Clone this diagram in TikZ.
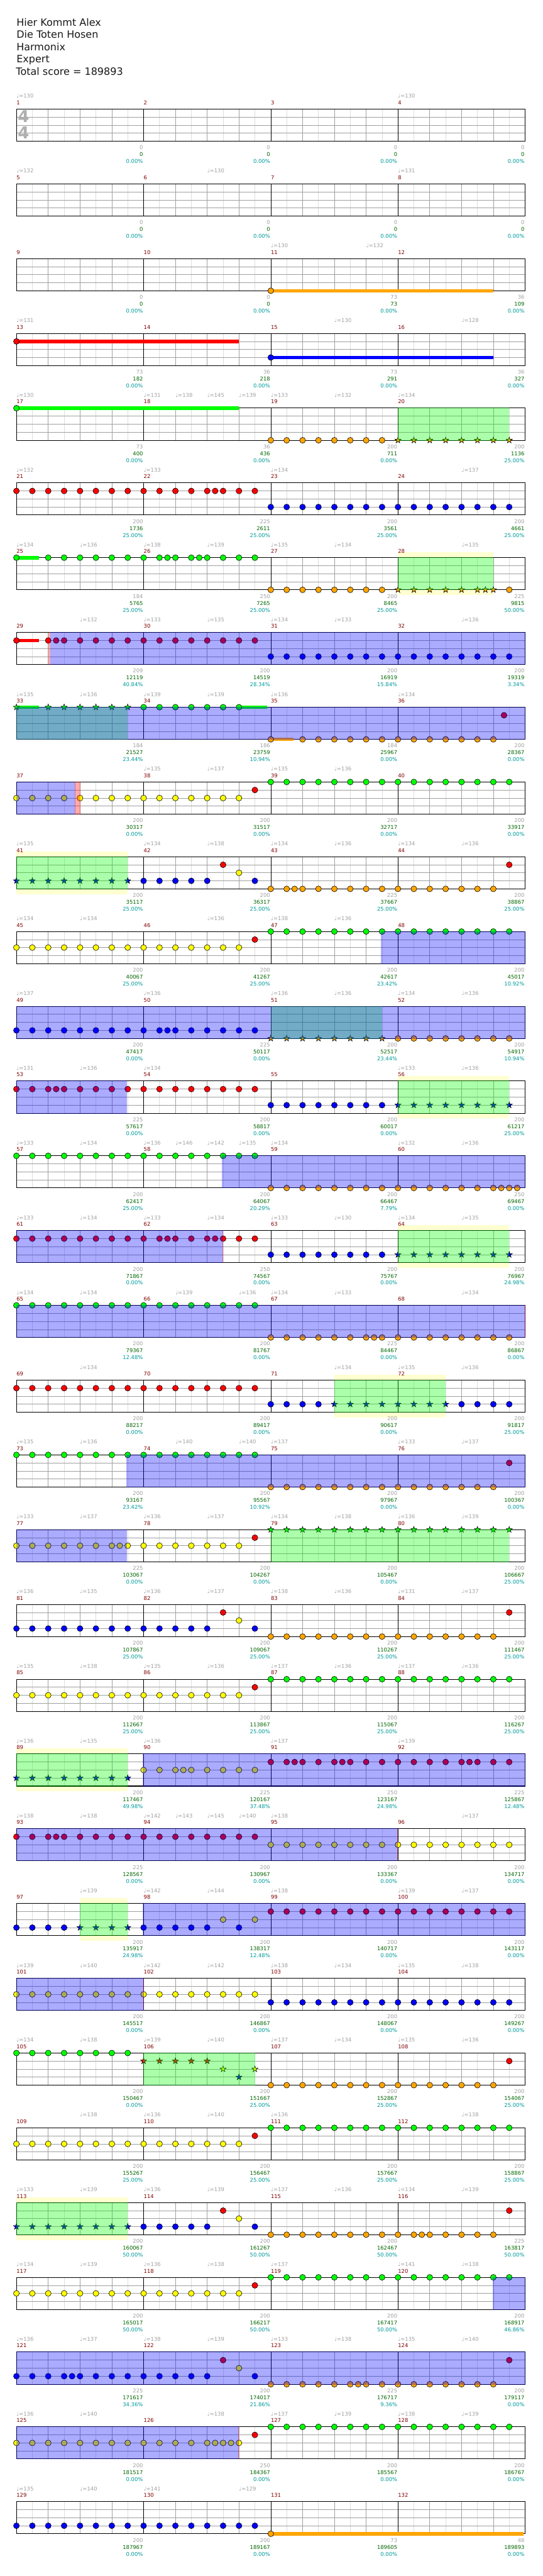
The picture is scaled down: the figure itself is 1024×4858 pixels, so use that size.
\documentclass[tikz,border=0pt]{standalone}
\usepackage{fontspec}
\setmainfont{DejaVu Sans}
\definecolor{gridl}{RGB}{221,221,221}
\definecolor{gridm}{RGB}{160,160,160}
\definecolor{mnumc}{RGB}{128,0,0}
\definecolor{greyc}{RGB}{160,160,160}
\definecolor{scorec}{RGB}{0,100,0}
\definecolor{pctc}{RGB}{0,153,153}
\definecolor{greenc}{RGB}{0,255,0}
\definecolor{redc}{RGB}{255,0,0}
\definecolor{yellowc}{RGB}{255,255,0}
\definecolor{bluec}{RGB}{0,0,255}
\definecolor{kickc}{RGB}{255,165,0}
\definecolor{glowc}{RGB}{255,255,208}
\definecolor{tsigc}{RGB}{175,175,175}
\tikzset{
  gem/.style={draw=black, line width=0.7},
  lane0/.style={fill=greenc},
  lane1/.style={fill=redc},
  lane2/.style={fill=yellowc},
  lane3/.style={fill=bluec},
  lane4/.style={fill=kickc},
  smalltxt/.style={inner sep=0, font=\fontsize{10}{12}\selectfont},
  mnum/.style={smalltxt, anchor=base west, text=mnumc},
  tempo/.style={smalltxt, anchor=base west, text=greyc},
  pts/.style={smalltxt, anchor=base east, text=greyc},
  sumtxt/.style={smalltxt, anchor=base east, text=scorec},
  pct/.style={smalltxt, anchor=base east, text=pctc},
  headtxt/.style={anchor=base west, inner sep=0, text=black!90, font=\fontsize{19}{23}\selectfont},
  tsig/.style={inner sep=0, text=tsigc, font=\fontsize{31}{31}\selectfont\bfseries},
}
\newcommand\staff[1]{%
  \pgfmathsetmacro\yt{205.7+141*#1}%
  \pgfmathsetmacro\yb{\yt+60.6}%
  \fill[white] (31,\yt) rectangle (991,\yb);
  \foreach \i in {1,3,...,31} \draw[gridl, line width=0.8] ({31+30*\i},\yt) -- ({31+30*\i},\yb);
  \foreach \i in {2,4,6,10,12,14,18,20,22,26,28,30} \draw[gridm, line width=0.8] ({31+30*\i},\yt) -- ({31+30*\i},\yb);
  \foreach \j in {1,2,3} \draw[gridm, line width=0.8] (31,{\yt+15.15*\j}) -- (991,{\yt+15.15*\j});
  \foreach \i in {8,16,24} \draw[black, line width=0.8] ({31+30*\i},\yt) -- ({31+30*\i},\yb);
  \draw[black, line width=1.2] (31,\yt) rectangle (991,\yb);
  \foreach \k in {0,...,3} {\pgfmathtruncatemacro\m{4*#1+\k+1}\node[mnum] (m\m) at ({31+240*\k},{\yt-8.35}) {\m};}
}
\newcommand\gems[3]{\foreach \p in {#3}{\filldraw[lane#2, gem] ({31+30*\p},{205.7+141*#1+15.15*#2}) circle (5.5);}}
\newcommand\spgems[3]{\foreach \p in {#3}{\filldraw[lane#2, gem, shift={({31+30*\p},{205.7+141*#1+15.15*#2})}] (0,-6) -- (1.41,-1.94) -- (5.71,-1.85) -- (2.28,0.74) -- (3.53,4.85) -- (0,2.4) -- (-3.53,4.85) -- (-2.28,0.74) -- (-5.71,-1.85) -- (-1.41,-1.94) -- cycle;}}
\newcommand\sust[4]{\fill[lane#2] ({31+30*#3},{205.7+141*#1+15.15*#2-3.3}) rectangle ({31+30*#4},{205.7+141*#1+15.15*#2+3.3});}
\newcommand\glow[3]{\fill[glowc] ({31+30*#2},{195.7+141*#1}) rectangle ({31+30*#3},{276.3+141*#1});}
\newcommand\spzone[3]{\fill[greenc, opacity=0.33] ({31+30*#2},{205.1+141*#1}) rectangle ({31+30*#3},{266.9+141*#1});}
\newcommand\odzone[3]{\fill[bluec, opacity=0.33] ({30.4+30*#2},{205.1+141*#1}) rectangle ({31.6+30*#3},{266.9+141*#1});}
\newcommand\odmark[3]{\fill[redc, opacity=0.33] ({31+30*#2},{205.1+141*#1}) rectangle ({31+30*#3},{266.9+141*#1});}
\newcommand\odend[2]{\draw[redc, opacity=0.4, line width=0.8] ({31+30*#2},{205.7+141*#1}) -- ({31+30*#2},{266.3+141*#1});}
\newcommand\tempos[2]{\foreach \p/\v in {#2}{\node[tempo] (t#1-\p) at ({31+30*\p},{185+141*#1}) {♩=\v};}}
\newcommand\scores[2]{\foreach \g/\s/\q [count=\k] in {#2}{%
  \node[pts] (g#1-\k) at ({30+240*\k},{282+141*#1}) {\g};
  \node[sumtxt] (s#1-\k) at ({30+240*\k},{295+141*#1}) {\s};
  \node[pct] (q#1-\k) at ({30+240*\k},{308+141*#1}) {\q\%};}}
\begin{document}
\begin{tikzpicture}[x=1pt, y=-1pt]
  \useasboundingbox (0,0) rectangle (1024,4858);
  \node[headtxt] (song) at (31,49.3) {Hier Kommt Alex};
  \node[headtxt] (band) at (31,72.3) {Die Toten Hosen};
  \node[headtxt] (charter) at (31,95.3) {Harmonix};
  \node[headtxt] (level) at (31,118.3) {Expert};
  \node[headtxt] (total) at (30,141.3) {Total score = 189893};

  \glow{6}{24}{30} \glow{10}{0}{7} \glow{13}{24}{31} \glow{15}{24}{31}
  \glow{17}{20}{27} \glow{22}{0}{7} \glow{24}{4}{7} \glow{28}{0}{7}
  \foreach \r in {0,...,32} {\staff{\r}}
  \node[tsig] (tsa) at (44.5,219) {4};
  \node[tsig] (tsb) at (44.5,250) {4};

  \sust{2}{4}{16}{30} \gems{2}{4}{16}
  \sust{3}{1}{0}{14} \gems{3}{1}{0} \sust{3}{3}{16}{30} \gems{3}{3}{16}
  \sust{4}{0}{0}{14} \gems{4}{0}{0} \gems{4}{4}{16,...,23} \spgems{4}{4}{24,...,31}
  \gems{5}{1}{0,...,12} \gems{5}{1}{12.5,13,14,15} \gems{5}{3}{16,...,31}
  \sust{6}{0}{0}{1.43} \gems{6}{0}{0,2,3,4,5,6,7,8,9,9.5,10,11,11.5,12,13,14,15}
  \gems{6}{4}{16,...,23} \spgems{6}{4}{24,25,26,27,28,29,29.5,30} \gems{6}{4}{31}
  \sust{7}{1}{0}{1.43} \gems{7}{1}{0,2,2.5} \gems{7}{1}{3,...,15} \gems{7}{3}{16,...,31}
  \sust{8}{0}{0}{1.43} \spgems{8}{0}{0,2,3,4,5,6,7} \sust{8}{0}{14}{15.76} \gems{8}{0}{8,...,14}
  \sust{8}{4}{16}{17.42} \gems{8}{4}{16,18,19,20,21,22,23,24,25,26,27,28,29,30} \gems{8}{1}{30.67}
  \gems{9}{2}{0,...,14} \gems{9}{1}{15} \gems{9}{0}{16,...,31}
  \spgems{10}{3}{0,...,7} \gems{10}{3}{8,9,10,11,12,15} \gems{10}{1}{13,31} \gems{10}{2}{14}
  \gems{10}{4}{16,17,17.5} \gems{10}{4}{18,...,30}
  \gems{11}{2}{0,...,14} \gems{11}{1}{15} \gems{11}{0}{16,...,31}
  \gems{12}{3}{0,...,9} \gems{12}{3}{9.5,10,11,12,13,14,15} \spgems{12}{4}{16,...,23} \gems{12}{4}{24,...,31}
  \gems{13}{1}{0,1,2,2.5} \gems{13}{1}{3,...,15} \gems{13}{3}{16,...,23} \spgems{13}{3}{24,...,31}
  \gems{14}{0}{0,...,15} \gems{14}{4}{16,...,30} \gems{14}{4}{30.5,31,31.5}
  \gems{15}{1}{0,...,9} \gems{15}{1}{9.5,10,11,12,12.5,13,14,15} \gems{15}{3}{16,...,23} \spgems{15}{3}{24,...,31}
  \gems{16}{0}{0,...,15} \gems{16}{4}{16,...,22} \gems{16}{4}{22.5} \gems{16}{4}{23,...,31}
  \gems{17}{1}{0,...,15} \gems{17}{3}{16,...,19} \spgems{17}{3}{20,...,27} \gems{17}{3}{28,...,31}
  \gems{18}{0}{0,...,15} \gems{18}{4}{16,...,30} \gems{18}{1}{31}
  \gems{19}{2}{0,...,6} \gems{19}{2}{6.5,7,8,9,10,11,12,13,14} \gems{19}{1}{15} \spgems{19}{0}{16,...,31}
  \gems{20}{3}{0,...,12} \gems{20}{3}{15} \gems{20}{1}{13,31} \gems{20}{2}{14} \gems{20}{4}{16,...,30}
  \gems{21}{2}{0,...,14} \gems{21}{1}{15} \gems{21}{0}{16,...,31}
  \spgems{22}{3}{0,...,7} \gems{22}{2}{8,9,10,10.5,11,12,13,14,15}
  \gems{22}{1}{16,17,17.5,18,19,20,20.5,21,22,23,24,25,26,27,28,28.5,29,30,31}
  \gems{23}{1}{0,1,2,2.5} \gems{23}{1}{3,...,15} \gems{23}{2}{16,...,31}
  \gems{24}{3}{0,1,2,3,8,9,10,11,12,14} \spgems{24}{3}{4,5,6,7} \gems{24}{2}{13,15} \gems{24}{1}{16,...,31}
  \gems{25}{2}{0,...,15} \gems{25}{3}{16,...,31}
  \gems{26}{0}{0,...,7} \spgems{26}{1}{8,...,12} \spgems{26}{2}{13,15} \spgems{26}{3}{14}
  \gems{26}{4}{16,...,30} \gems{26}{1}{31}
  \gems{27}{2}{0,...,14} \gems{27}{1}{15} \gems{27}{0}{16,...,31}
  \spgems{28}{3}{0,...,7} \gems{28}{3}{8,9,10,11,12,15} \gems{28}{1}{13,31} \gems{28}{2}{14}
  \gems{28}{4}{16,...,25} \gems{28}{4}{25.5,26,27,28,29,30}
  \gems{29}{2}{0,...,14} \gems{29}{1}{15} \gems{29}{0}{16,...,31}
  \gems{30}{3}{0,1,2,3,3.5} \gems{30}{3}{4,...,12} \gems{30}{3}{15} \gems{30}{1}{13,31} \gems{30}{2}{14}
  \gems{30}{4}{16,...,21} \gems{30}{4}{21.5} \gems{30}{4}{22,...,30}
  \gems{31}{2}{0,...,12} \gems{31}{2}{12.5,13,13.5,14} \gems{31}{1}{15} \gems{31}{0}{16,...,31}
  \gems{32}{3}{0,...,15} \sust{32}{4}{16}{31.89} \gems{32}{4}{16}

  \spzone{4}{24}{31} \spzone{6}{24}{30} \spzone{8}{0}{7} \spzone{10}{0}{7}
  \spzone{12}{16}{23} \spzone{13}{24}{31} \spzone{15}{24}{31} \spzone{17}{20}{27}
  \spzone{19}{16}{31} \spzone{22}{0}{7} \spzone{24}{4}{7} \spzone{26}{8}{15} \spzone{28}{0}{7}

  \odmark{7}{2}{2.13} \odzone{7}{2.13}{32} \odzone{8}{0}{32}
  \odzone{9}{0}{3.69} \odmark{9}{3.69}{4.01}
  \odzone{11}{22.93}{32} \odzone{12}{0}{32} \odzone{13}{0}{6.93}
  \odzone{14}{12.96}{32} \odzone{15}{0}{12.98} \odend{15}{12.98}
  \odzone{16}{0}{32} \odend{16}{32} \odzone{18}{6.93}{32} \odzone{19}{0}{6.93}
  \odzone{22}{7.98}{32} \odzone{23}{0}{23.98} \odend{23}{23.98}
  \odzone{24}{7.98}{32} \odzone{25}{0}{8} \odend{25}{8}
  \odzone{29}{30}{32} \odzone{30}{0}{32} \odzone{31}{0}{13.96} \odend{31}{13.96}

  \tempos{0}{0/130,24/130}
  \tempos{1}{0/132,12/130,24/131}
  \tempos{2}{16/130,22/132}
  \tempos{3}{0/131,20/130,28/128}
  \tempos{4}{0/130,8/131,10/138,12/145,14/139,16/133,20/132,24/134}
  \tempos{5}{0/132,8/133,16/134,28/137}
  \tempos{6}{0/134,4/136,8/138,12/139,16/135,20/134,28/135}
  \tempos{7}{4/132,8/133,12/135,16/134,20/133,28/136}
  \tempos{8}{0/135,4/136,8/139,12/139,16/136,24/134}
  \tempos{9}{8/135,12/137,16/135,20/136}
  \tempos{10}{0/135,8/134,12/138,16/134,20/136,24/134,28/136}
  \tempos{11}{0/134,4/134,12/136,16/138,20/136}
  \tempos{12}{0/137,8/136,16/136,20/136,24/134,28/136}
  \tempos{13}{0/131,4/136,8/134,24/133,28/136}
  \tempos{14}{0/133,4/134,8/136,10/146,12/142,14/135,16/134,24/132,28/136}
  \tempos{15}{0/133,4/134,8/133,12/134,16/133,20/130,24/134,28/135}
  \tempos{16}{0/134,4/134,10/139,14/136,16/134,20/133,28/134}
  \tempos{17}{4/134,20/134,24/135,28/136}
  \tempos{18}{0/135,4/136,10/140,14/140,16/137,24/133,28/137}
  \tempos{19}{0/133,4/137,8/136,12/137,16/134,20/138,24/136,28/139}
  \tempos{20}{0/136,4/135,8/136,12/137,16/138,20/136,24/131,28/137}
  \tempos{21}{0/135,4/138,8/135,12/136,16/137,20/136,24/137,28/136}
  \tempos{22}{0/136,4/135,8/136,16/137,24/139}
  \tempos{23}{0/138,4/138,8/142,10/143,12/145,14/140,16/138,28/137}
  \tempos{24}{4/139,8/142,12/144,16/138,24/139,28/137}
  \tempos{25}{0/139,4/140,8/142,12/142,16/138,20/134,24/135,28/138}
  \tempos{26}{0/134,4/138,8/139,12/140,16/137,20/134,24/135,28/136}
  \tempos{27}{4/138,8/136,12/140,16/136,28/138}
  \tempos{28}{0/133,4/139,8/136,12/139,16/137,20/136,24/134,28/139}
  \tempos{29}{0/134,4/139,8/136,12/138,16/137,24/141,28/138}
  \tempos{30}{0/136,4/137,8/138,12/139,16/133,20/138,24/135,28/140}
  \tempos{31}{0/136,4/140,12/138,16/137,20/139,24/138,28/139}
  \tempos{32}{0/135,4/140,8/141,14/129}

  \scores{0}{0/0/0.00,0/0/0.00,0/0/0.00,0/0/0.00}
  \scores{1}{0/0/0.00,0/0/0.00,0/0/0.00,0/0/0.00}
  \scores{2}{0/0/0.00,0/0/0.00,73/73/0.00,36/109/0.00}
  \scores{3}{73/182/0.00,36/218/0.00,73/291/0.00,36/327/0.00}
  \scores{4}{73/400/0.00,36/436/0.00,200/711/0.00,200/1136/25.00}
  \scores{5}{200/1736/25.00,225/2611/25.00,200/3561/25.00,200/4661/25.00}
  \scores{6}{184/5765/25.00,250/7265/25.00,200/8465/25.00,225/9815/50.00}
  \scores{7}{209/12119/40.84,200/14519/28.34,200/16919/15.84,200/19319/3.34}
  \scores{8}{184/21527/23.44,186/23759/10.94,184/25967/0.00,200/28367/0.00}
  \scores{9}{200/30317/0.00,200/31517/0.00,200/32717/0.00,200/33917/0.00}
  \scores{10}{200/35117/25.00,200/36317/25.00,225/37667/25.00,200/38867/25.00}
  \scores{11}{200/40067/25.00,200/41267/25.00,200/42617/23.42,200/45017/10.92}
  \scores{12}{200/47417/0.00,225/50117/0.00,200/52517/23.44,200/54917/10.94}
  \scores{13}{225/57617/0.00,200/58817/0.00,200/60017/0.00,200/61217/25.00}
  \scores{14}{200/62417/25.00,200/64067/20.29,200/66467/7.79,250/69467/0.00}
  \scores{15}{200/71867/0.00,250/74567/0.00,200/75767/0.00,200/76967/24.98}
  \scores{16}{200/79367/12.48,200/81767/0.00,225/84467/0.00,200/86867/0.00}
  \scores{17}{200/88217/0.00,200/89417/0.00,200/90617/0.00,200/91817/25.00}
  \scores{18}{200/93167/23.42,200/95567/10.92,200/97967/0.00,200/100367/0.00}
  \scores{19}{225/103067/0.00,200/104267/0.00,200/105467/0.00,200/106667/25.00}
  \scores{20}{200/107867/25.00,200/109067/25.00,200/110267/25.00,200/111467/25.00}
  \scores{21}{200/112667/25.00,200/113867/25.00,200/115067/25.00,200/116267/25.00}
  \scores{22}{200/117467/49.98,225/120167/37.48,250/123167/24.98,225/125867/12.48}
  \scores{23}{225/128567/0.00,200/130967/0.00,200/133367/0.00,200/134717/0.00}
  \scores{24}{200/135917/24.98,200/138317/12.48,200/140717/0.00,200/143117/0.00}
  \scores{25}{200/145517/0.00,200/146867/0.00,200/148067/0.00,200/149267/0.00}
  \scores{26}{200/150467/0.00,200/151667/25.00,200/152867/25.00,200/154067/25.00}
  \scores{27}{200/155267/25.00,200/156467/25.00,200/157667/25.00,200/158867/25.00}
  \scores{28}{200/160067/50.00,200/161267/50.00,200/162467/50.00,225/163817/50.00}
  \scores{29}{200/165017/50.00,200/166217/50.00,200/167417/50.00,200/168917/46.86}
  \scores{30}{225/171617/34.36,200/174017/21.86,225/176717/9.36,200/179117/0.00}
  \scores{31}{200/181517/0.00,250/184367/0.00,200/185567/0.00,200/186767/0.00}
  \scores{32}{200/187967/0.00,200/189167/0.00,73/189605/0.00,48/189893/0.00}
\end{tikzpicture}
\end{document}
